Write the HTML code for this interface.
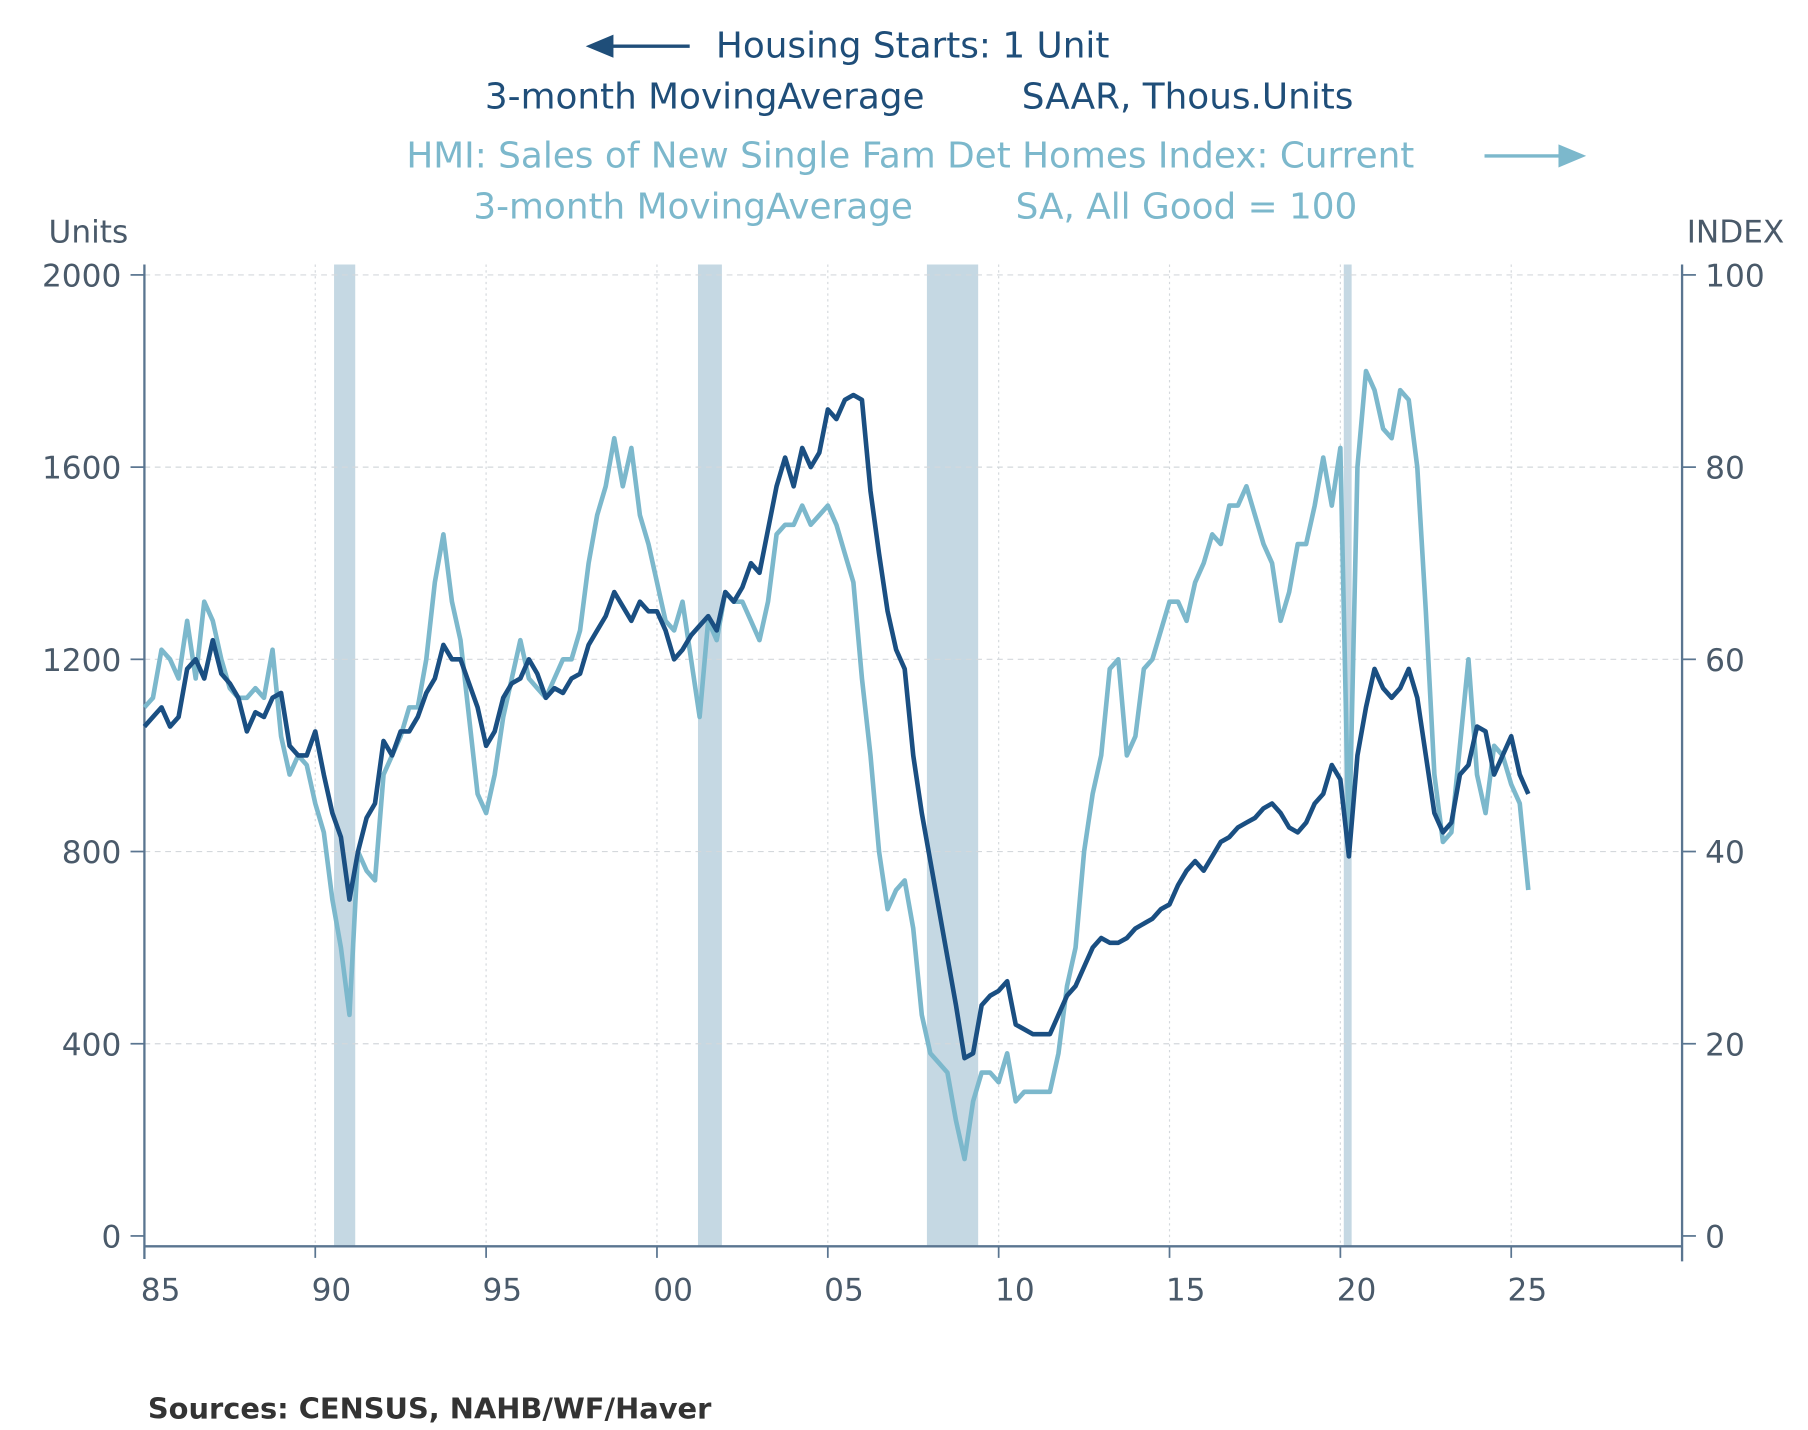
<!DOCTYPE html>
<html><head><meta charset="utf-8"><style>
html,body{margin:0;padding:0;background:#fff;}
svg{display:block;font-family:"DejaVu Sans","Liberation Sans",sans-serif;}
</style></head><body>
<svg id="chart" width="1808" height="1430" viewBox="0 0 1565 1238" preserveAspectRatio="none" xmlns="http://www.w3.org/2000/svg">
<g font-size="31" text-anchor="middle">
 <text x="790" y="50" fill="#1f4e79">Housing Starts: 1 Unit</text>
 <path d="M597 40 H525" stroke="#1f4e79" stroke-width="3"/><path d="M507 40 L531 30 L531 50 Z" fill="#1f4e79"/>
 <text x="610" y="94" fill="#1f4e79">3-month MovingAverage</text>
 <text x="1028" y="94" fill="#1f4e79">SAAR, Thous.Units</text>
 <text x="788" y="145" fill="#7cb8cc">HMI: Sales of New Single Fam Det Homes Index: Current</text>
 <path d="M1285 135 H1355" stroke="#7cb8cc" stroke-width="3"/><path d="M1373 135 L1349 125 L1349 145 Z" fill="#7cb8cc"/>
 <text x="600" y="189" fill="#7cb8cc">3-month MovingAverage</text>
 <text x="1027" y="189" fill="#7cb8cc">SA, All Good = 100</text>
</g>
<text x="42" y="210" font-size="27" fill="#4a5a6a">Units</text>
<text x="1460" y="210" font-size="27" fill="#4a5a6a">INDEX</text>
<g id="rec"></g><g id="grid"></g><g id="axes"></g><g id="lines"></g>
<text x="128" y="1228" font-size="25" font-weight="bold" fill="#333">Sources:  CENSUS, NAHB/WF/Haver</text>
<script>
const recessions=[[1990.55,1991.17],[2001.2,2001.9],[2007.9,2009.4],[2020.1,2020.33]];
const leftTicks=[0,400,800,1200,1600,2000];
const rightTicks=[0,20,40,60,80,100];
const xTickYears=[1985,1990,1995,2000,2005,2010,2015,2020,2025];
const xTickLabels=["85","90","95","00","05","10","15","20","25"];
const startYear=1985, stepYears=0.25;
const starts=[1060,1080,1100,1060,1080,1180,1200,1160,1240,1170,1150,1120,1050,1090,1080,1120,1130,1020,1000,1000,1050,960,880,830,700,800,870,900,1030,1000,1050,1050,1080,1130,1160,1230,1200,1200,1150,1100,1020,1050,1120,1150,1160,1200,1170,1120,1140,1130,1160,1170,1230,1260,1290,1340,1310,1280,1320,1300,1300,1260,1200,1220,1250,1270,1290,1260,1340,1320,1350,1400,1380,1470,1560,1620,1560,1640,1600,1630,1720,1700,1740,1750,1740,1550,1420,1300,1220,1180,1000,880,780,680,580,480,370,380,480,500,510,530,440,430,420,420,420,460,500,520,560,600,620,610,610,620,640,650,660,680,690,730,760,780,760,790,820,830,850,860,870,890,900,880,850,840,860,900,920,980,950,790,1000,1100,1180,1140,1120,1140,1180,1120,1000,880,840,860,960,980,1060,1050,960,1000,1040,960,920];
const hmi=[55,56,61,60,58,64,58,66,64,60,57,56,56,57,56,61,52,48,50,49,45,42,35,30,23,40,38,37,48,50,52,55,55,60,68,73,66,62,54,46,44,48,54,58,62,58,57,56,58,60,60,63,70,75,78,83,78,82,75,72,68,64,63,66,60,54,64,62,67,66,66,64,62,66,73,74,74,76,74,75,76,74,71,68,58,50,40,34,36,37,32,23,19,18,17,12,8,14,17,17,16,19,14,15,15,15,15,19,26,30,40,46,50,59,60,50,52,59,60,63,66,66,64,68,70,73,72,76,76,78,75,72,70,64,67,72,72,76,81,76,82,40,80,90,88,84,83,88,87,80,65,48,41,42,51,60,48,44,51,50,47,45,36];
const X0=125,X1=1456,Y0=1070,Y1=238;
const xs=y=>X0+(y-1985)/(2030-1985)*(X1-X0);
const yl=v=>Y0-v/2000*(Y0-Y1);
const yr=v=>Y0-v/100*(Y0-Y1);
const NS="http://www.w3.org/2000/svg";
function mk(t,a,p){const e=document.createElementNS(NS,t);for(const k in a)e.setAttribute(k,a[k]);p.appendChild(e);return e;}
const rec=document.getElementById('rec'),grid=document.getElementById('grid'),axes=document.getElementById('axes'),lines=document.getElementById('lines');
recessions.forEach(r=>{const e=mk('rect',{x:xs(r[0]),y:229,width:xs(r[1])-xs(r[0]),height:Y0+9-229,fill:'#c5d8e3'},rec);

});
leftTicks.forEach((v,i)=>{
 if(v>0){const g=mk('line',{x1:X0,x2:X1,y1:yl(v),y2:yl(v),stroke:'#d4d8dc','stroke-dasharray':'5,4','stroke-width':1},grid);
 
 }
 mk('line',{x1:X0-12,x2:X0,y1:yl(v),y2:yl(v),stroke:'#5a7590','stroke-width':1.5},axes);
 const t=mk('text',{x:X0-20,y:yl(v)+10,'font-size':27,fill:'#4a5a6a','text-anchor':'end'},axes);t.textContent=v;
 
 
 mk('line',{x1:X1,x2:X1+12,y1:yr(rightTicks[i]),y2:yr(rightTicks[i]),stroke:'#5a7590','stroke-width':1.5},axes);
 const t2=mk('text',{x:X1+20,y:yr(rightTicks[i])+10,'font-size':27,fill:'#4a5a6a'},axes);t2.textContent=rightTicks[i];
 
 
});
xTickYears.forEach((yv,i)=>{
 if(i>0){const g=mk('line',{x1:xs(yv),x2:xs(yv),y1:229,y2:1079,stroke:'#d4d8dc','stroke-dasharray':'2,3','stroke-width':1},grid);
 
 }
 mk('line',{x1:xs(yv),x2:xs(yv),y1:1079,y2:1089,stroke:'#5a7590','stroke-width':1.5},axes);
 const t=mk('text',{x:xs(yv)+14,y:1126,'font-size':27,fill:'#4a5a6a','text-anchor':'middle'},axes);t.textContent=xTickLabels[i];
 
 
});
mk('line',{x1:X0,x2:X0,y1:229,y2:1090,stroke:'#5a7590','stroke-width':2},axes);
mk('line',{x1:X1,x2:X1,y1:229,y2:1092,stroke:'#5a7590','stroke-width':2},axes);
mk('line',{x1:X0,x2:X1,y1:1079,y2:1079,stroke:'#5a7590','stroke-width':2},axes);
function pts(arr,f){return arr.map((v,i)=>xs(startYear+i*stepYears).toFixed(1)+','+f(v).toFixed(1)).join(' ');}
const l2=mk('polyline',{points:pts(hmi,yr),fill:'none',stroke:'#7cb8cc','stroke-width':4,'stroke-linejoin':'round'},lines);


const l1=mk('polyline',{points:pts(starts,yl),fill:'none',stroke:'#1a4f82','stroke-width':4,'stroke-linejoin':'round'},lines);


</script>
</svg>
</body></html>
